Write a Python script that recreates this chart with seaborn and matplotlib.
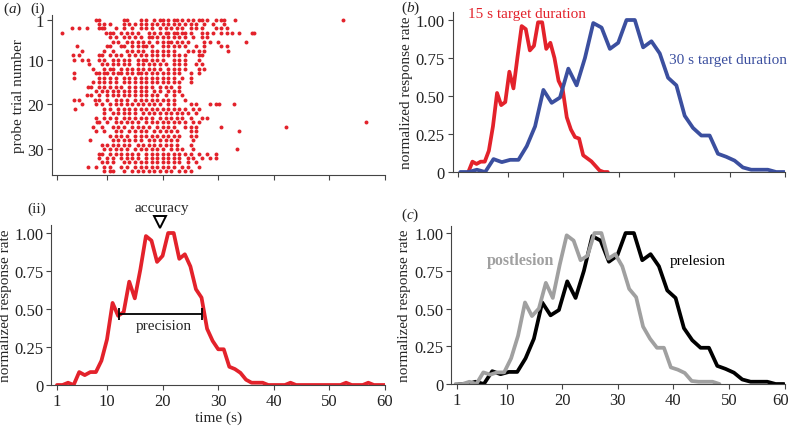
import numpy as np
import pandas as pd
import matplotlib
matplotlib.use("Agg")
import matplotlib.pyplot as plt
import matplotlib.transforms as mtransforms
import seaborn as sns

# ---------------- data ----------------
# (a)(ii) normalized response rate, 1-s bins
time_s = list(range(1, 61))
rate_ii = [0.0, 0.0, 0.015, 0.0, 0.085, 0.065, 0.085, 0.085, 0.16, 0.30,
           0.54, 0.455, 0.48, 0.68, 0.57, 0.76, 0.98, 0.95, 0.81, 0.85,
           1.0, 1.0, 0.83, 0.86, 0.78, 0.63, 0.575, 0.37, 0.29, 0.235,
           0.235, 0.12, 0.105, 0.08, 0.035, 0.015, 0.015, 0.015, 0.0, 0.0,
           0.0, 0.0, 0.015, 0.0, 0.0, 0.0, 0.0, 0.0, 0.0, 0.0,
           0.0, 0.0, 0.015, 0.0, 0.0, 0.0, 0.015, 0.0, 0.0, 0.0]

# (b) 15 s target duration (red)
time_15 = [2.86, 3.6, 4.34, 5.08, 5.82, 6.56, 7.3, 8.04, 8.78, 9.52,
           10.26, 11.0, 11.74, 12.48, 13.22, 13.96, 14.7, 15.44, 16.18, 16.92,
           17.66, 18.4, 19.14, 19.88, 20.62, 21.36, 22.1, 22.84, 23.58, 24.32,
           25.06, 25.8, 26.54, 27.28, 28.02]
rate_15 = [0.0, 0.068, 0.053, 0.068, 0.068, 0.14, 0.30, 0.52, 0.44, 0.46,
           0.66, 0.55, 0.76, 0.96, 0.94, 0.80, 0.83, 0.985, 0.985, 0.81,
           0.85, 0.75, 0.60, 0.545, 0.36, 0.28, 0.23, 0.22, 0.11, 0.09,
           0.07, 0.04, 0.01, 0.0, 0.0]

# (b) 30 s target duration (blue) == (c) prelesion (black)
time_30 = [1.4, 2.9, 4.4, 5.9, 7.4, 8.9, 10.4, 11.9, 13.4, 14.9,
           16.4, 17.9, 19.4, 20.9, 22.4, 23.9, 25.4, 26.9, 28.4, 29.9,
           31.4, 32.9, 34.4, 35.9, 37.4, 38.9, 40.4, 41.9, 43.4, 44.9,
           46.4, 47.9, 49.4, 50.9, 52.4, 53.9, 55.4, 56.9, 58.4, 59.9]
rate_30 = [0.0, 0.0, 0.015, 0.0, 0.085, 0.065, 0.08, 0.08, 0.17, 0.30,
           0.54, 0.455, 0.49, 0.68, 0.57, 0.75, 0.98, 0.95, 0.81, 0.85,
           1.0, 1.0, 0.82, 0.86, 0.78, 0.62, 0.57, 0.37, 0.29, 0.24,
           0.24, 0.12, 0.10, 0.075, 0.03, 0.015, 0.015, 0.015, 0.0, 0.0]

# (c) postlesion (grey)
time_post = [0.8, 2.05, 3.3, 4.55, 5.8, 7.05, 8.3, 9.55, 10.8, 12.05,
             13.3, 14.55, 15.8, 17.05, 18.3, 19.55, 20.8, 22.05, 23.3, 24.55,
             25.8, 27.05, 28.3, 29.55, 30.8, 32.05, 33.3, 34.55, 35.8, 37.05,
             38.3, 39.55, 40.8, 42.05, 43.3, 44.55, 45.8, 47.05, 48.3]
rate_post = [0.0, 0.0, 0.015, 0.0, 0.077, 0.062, 0.077, 0.077, 0.17, 0.32,
             0.54, 0.45, 0.50, 0.67, 0.57, 0.79, 0.985, 0.95, 0.82, 0.85,
             1.0, 1.0, 0.83, 0.86, 0.78, 0.63, 0.575, 0.38, 0.30, 0.24,
             0.24, 0.11, 0.095, 0.073, 0.02, 0.015, 0.015, 0.015, 0.0]

# (a)(i) raster: response times (s) per probe trial
raster = {
    1: [8, 8.5, 13, 13.5, 16, 17, 18.5, 19.5, 20, 21, 22, 22.5, 23.5, 24.5, 25.5, 26.5, 27, 28, 29.5, 30.5, 31, 33, 52.5],
    2: [8.5, 9.5, 10.5, 13, 14, 15, 16, 17, 18, 19, 20, 21, 22, 23, 24, 25, 26, 27.5, 29, 31],
    3: [3.6, 4.9, 6.4, 8.5, 9, 9.5, 11.5, 13, 14.5, 16, 17, 18, 19.5, 20.5, 21.5, 22.5, 23.5, 25, 26, 27, 29.5, 30.5, 31.5],
    4: [1.8, 9.8, 10.5, 11, 12.5, 13.5, 14.5, 15.5, 17.5, 18.5, 19.5, 20.5, 21, 22, 22.5, 23.5, 24, 25, 27, 28, 29, 30.5, 31.5, 32.5, 33.8, 36, 36.5],
    5: [10.5, 11.5, 13, 14, 15, 16, 17.5, 18, 19, 20, 21, 22, 23, 24, 25.5, 27, 28],
    6: [11, 12, 13.5, 14.5, 15.5, 16.5, 17.5, 19, 20, 21, 21.5, 22.5, 23.5, 24.5, 27.5, 28.5, 30, 35],
    7: [4.5, 10, 10.5, 12.5, 13, 14.5, 15.5, 16.5, 17, 18, 20, 21, 22, 23, 24, 26, 27.5, 30.5, 31.5],
    8: [5.4, 9.5, 11, 13.5, 14.5, 15.5, 16.5, 18, 19, 20, 21, 22, 24.5, 25.5, 26.5, 27.5, 31.7],
    9: [3.8, 5, 8.5, 9, 10.5, 11.5, 12.5, 14, 15, 16, 17, 18, 19, 20, 21, 22, 23, 24, 26.5, 27],
    10: [4, 5.4, 6.5, 8.5, 9.5, 11, 12, 13, 14, 15.5, 16.5, 17, 18, 19, 20, 22, 23, 24, 26.5],
    11: [6.7, 9, 10, 11, 12, 13, 14, 15.5, 16.5, 17.5, 18.5, 19.5, 20.5, 22, 23, 24, 26, 27],
    12: [7.5, 9.5, 10.5, 11, 12.5, 13.5, 14.5, 15.5, 16.5, 17.5, 18.5, 19.5, 21, 22, 23, 24, 26.5, 27.5],
    13: [4, 8, 8.5, 9.5, 10, 11, 12, 12.5, 13.5, 14.5, 15.5, 16, 17, 18, 19, 20, 21, 22, 23, 25, 26.5],
    14: [4, 8.5, 9.5, 10.5, 11.5, 13, 14, 15, 16, 17, 18, 19, 20, 21, 22, 23.5, 25],
    15: [7.5, 8.5, 9.5, 10.5, 11.5, 13, 14, 15, 16, 17, 18, 19, 20, 21, 22, 23, 25],
    16: [6.5, 7, 8.5, 9.5, 10.5, 11.5, 12.5, 14, 15, 16, 17, 18, 19.5, 20.5, 21.5, 23],
    17: [8, 9, 10, 11, 12, 13, 14, 15, 16, 17, 18.5, 19.5, 21, 22, 23],
    18: [6.4, 7, 8.5, 10, 11, 12, 13, 14, 15, 16, 17, 18, 19, 20.5, 22, 23.5],
    19: [4, 5, 7.8, 8.5, 10, 11.5, 12.5, 13.5, 15, 16, 17, 18, 19, 20, 21, 22, 24],
    20: [5.4, 8, 9, 10.5, 11.5, 12.5, 13.5, 14.5, 15.5, 16.5, 17.5, 18.5, 19.5, 21, 22, 25, 26, 28.5, 29.5, 30.2, 32.9],
    21: [4.2, 9.5, 10.5, 12, 13, 14, 15, 16, 17, 18, 19, 20, 21, 22, 23, 24, 25.5, 26.5],
    22: [9.5, 11, 12, 13, 14, 15, 16.5, 17.5, 18.5, 19.5, 20.5, 21.5, 22.5, 23.5, 24.5, 26],
    23: [8, 9.5, 10.5, 11.5, 13, 14, 15, 16, 17, 18, 19.5, 20.5, 21.5, 22.5, 23.5, 25, 27, 28],
    24: [8.1, 8.5, 10, 11.5, 12.5, 13.5, 14.5, 15.5, 17, 18, 19, 20, 21, 22, 23, 24, 25.5, 26.5, 56.6],
    25: [7.5, 9, 11, 12, 13, 14.5, 15.5, 16.5, 17.5, 19, 20, 21, 22, 24, 25, 26, 30.5, 42.2],
    26: [8, 9.5, 11.5, 12.5, 14, 15, 16, 17, 18.5, 19.5, 20.5, 21.5, 22.5, 25, 26, 33.8],
    27: [10.5, 11.5, 12.5, 13.5, 15, 16, 17, 18, 19, 20, 21, 22, 23, 25, 26],
    28: [6.9, 11, 12, 13, 14, 15, 16, 17.5, 18.5, 19.5, 20.5, 21.5, 22.5, 25.5],
    29: [9, 10, 11, 12, 13, 14, 15.5, 16.5, 17.5, 18.5, 19.5, 20.5, 21.5, 22.5, 25],
    30: [9.5, 10.5, 11.5, 12.5, 13.5, 15, 16, 17, 18, 19, 20, 21.5, 22.5, 23.5, 25.5, 33.3],
    31: [8.5, 9, 10.5, 11.5, 12.5, 13.5, 14.5, 15.5, 17, 18, 19, 20, 21, 22, 23, 24, 25, 26.5, 28, 29.5],
    32: [8.5, 10, 11, 12.5, 13.5, 14.5, 15.5, 17, 18, 19, 20, 21, 22, 23, 24.5, 25.5, 27, 28.5, 29.5],
    33: [9, 10, 11, 13, 14, 15, 16, 17, 18, 19, 20, 21, 22, 23, 24.5, 26],
    34: [6.5, 8, 9.5, 10.5, 12.5, 13.5, 15, 16, 17, 18, 19, 20, 21, 22, 23.5, 24.5, 26.5],
    35: [9.5, 10.5, 11, 13, 14.5, 15.5, 16.5, 17.5, 18.5, 19.5, 20.5, 21.5, 23, 24, 25],
}

x_ticks = [1, 10, 20, 30, 40, 50, 60]
y_ticks = [0, 0.25, 0.5, 0.75, 1.0]
y_ticklabels = ["0", "0.25", "0.50", "0.75", "1.00"]
trial_ticks = [1, 10, 20, 30]

RED = "#e3222b"
BLUE = "#3b4f9f"
GREY = "#a0a0a0"
BLACK = "#000000"

# ---------------- style ----------------
sns.set_theme(style="ticks")
plt.rcParams["font.family"] = ["Liberation Serif", "DejaVu Serif"]
plt.rcParams["mathtext.fontset"] = "custom"
plt.rcParams["mathtext.it"] = "Liberation Serif:italic"
plt.rcParams["mathtext.rm"] = "Liberation Serif"
plt.rcParams["axes.edgecolor"] = "#444444"
plt.rcParams["axes.linewidth"] = 0.8
plt.rcParams["xtick.color"] = "#444444"
plt.rcParams["ytick.color"] = "#444444"
plt.rcParams["xtick.labelcolor"] = "#222222"
plt.rcParams["ytick.labelcolor"] = "#222222"

W, H = 791, 427
fig = plt.figure(figsize=(W / 100, H / 100), dpi=100)

def frac(left, top, right, bottom):
    return [left / W, 1 - bottom / H, (right - left) / W, (bottom - top) / H]

ax_i = fig.add_axes(frac(51.7, 16.5, 385, 176))
ax_ii = fig.add_axes(frac(51.4, 226.4, 385, 386))
ax_b = fig.add_axes(frac(452.5, 13.4, 785, 173))
ax_c = fig.add_axes(frac(451.1, 226.5, 784.5, 385))

TICK_FS = 12
LAB_FS = 11

def style_axis(ax):
    sns.despine(ax=ax)
    ax.tick_params(direction="out", length=3.5, width=0.8, labelsize=TICK_FS, pad=2)
    ax.set_xlim(0, 60)
    ax.set_xticks(x_ticks)

# (a)(i) raster
rows = []
for trial, times in raster.items():
    for t in times:
        rows.append({"time": t, "trial": trial})
df_r = pd.DataFrame(rows)
sns.scatterplot(data=df_r, x="time", y="trial", ax=ax_i, color=RED, s=8,
                marker="o", linewidth=0, legend=False)
style_axis(ax_i)
ax_i.set_ylim(35.8, 0.1)
ax_i.set_yticks(trial_ticks)
ax_i.set_xticklabels([])
ax_i.set_xlabel("")
ax_i.set_ylabel("probe trial number", fontsize=LAB_FS, labelpad=2)

# (a)(ii)
df_ii = pd.DataFrame({"time": time_s, "rate": rate_ii})
sns.lineplot(data=df_ii, x="time", y="rate", ax=ax_ii, color=RED, linewidth=2.7)
style_axis(ax_ii)
ax_ii.set_ylim(0, 1.05)
ax_ii.set_yticks(y_ticks)
ax_ii.set_yticklabels(y_ticklabels)
ax_ii.set_xlabel("time (s)", fontsize=LAB_FS, labelpad=1)
ax_ii.set_ylabel("normalized response rate", fontsize=LAB_FS, labelpad=2)
# precision bar
ax_ii.errorbar([19.6], [0.47], xerr=[[7.4], [7.4]], fmt="none", ecolor="black",
               elinewidth=1.3, capsize=4, capthick=1.3)
ax_ii.text(20.3, 0.39, "precision", ha="center", va="center", fontsize=LAB_FS)
ax_ii.plot([19.5], [1.075], marker="v", markersize=8, markerfacecolor="white",
           markeredgecolor="black", markeredgewidth=1.4, clip_on=False)
ax_ii.text(19.8, 1.165, "accuracy", ha="center", va="center", fontsize=LAB_FS,
           clip_on=False)

# (b)
df_15 = pd.DataFrame({"time": time_15, "rate": rate_15})
df_30 = pd.DataFrame({"time": time_30, "rate": rate_30})
sns.lineplot(data=df_15, x="time", y="rate", ax=ax_b, color=RED, linewidth=2.7)
sns.lineplot(data=df_30, x="time", y="rate", ax=ax_b, color=BLUE, linewidth=2.7)
style_axis(ax_b)
ax_b.set_ylim(0, 1.05)
ax_b.set_yticks(y_ticks)
ax_b.set_yticklabels(y_ticklabels)
ax_b.set_xticklabels([])
ax_b.set_xlabel("")
ax_b.set_ylabel("normalized response rate", fontsize=LAB_FS, labelpad=2)
ax_b.text(13.4, 1.045, "15 s target duration", color=RED, ha="center",
          va="center", fontsize=LAB_FS, clip_on=False)
ax_b.text(49.8, 0.74, "30 s target duration", color=BLUE, ha="center",
          va="center", fontsize=LAB_FS)

# (c)
df_pre = pd.DataFrame({"time": time_30, "rate": rate_30})
df_post = pd.DataFrame({"time": time_post, "rate": rate_post})
sns.lineplot(data=df_pre, x="time", y="rate", ax=ax_c, color=BLACK, linewidth=2.7)
sns.lineplot(data=df_post, x="time", y="rate", ax=ax_c, color=GREY, linewidth=2.7)
style_axis(ax_c)
ax_c.set_ylim(0, 1.05)
ax_c.set_yticks(y_ticks)
ax_c.set_yticklabels(y_ticklabels)
ax_c.set_xlabel("")
ax_c.set_ylabel("normalized response rate", fontsize=LAB_FS, labelpad=2)
ax_c.text(12.5, 0.82, "postlesion", color=GREY, ha="center", va="center",
          fontsize=LAB_FS + 0.5, fontweight="bold")
ax_c.text(44.4, 0.82, "prelesion", color=BLACK, ha="center", va="center",
          fontsize=LAB_FS)
# keep the last tick label ("60") inside the figure
last_lbl = ax_c.get_xticklabels()[-1]
last_lbl.set_transform(last_lbl.get_transform() +
                       mtransforms.ScaledTranslation(-4 / 100, 0, fig.dpi_scale_trans))

# panel labels
fig.text(3 / W, 1 - 9 / H, r"($\it{a}$)", fontsize=LAB_FS, va="center", ha="left")
fig.text(30 / W, 1 - 9 / H, "(i)", fontsize=LAB_FS, va="center", ha="left")
fig.text(27 / W, 1 - 209 / H, "(ii)", fontsize=LAB_FS, va="center", ha="left")
fig.text(401 / W, 1 - 8 / H, r"($\it{b}$)", fontsize=LAB_FS, va="center", ha="left")
fig.text(401 / W, 1 - 215 / H, r"($\it{c}$)", fontsize=LAB_FS, va="center", ha="left")

fig.savefig("out.png", dpi=100)
